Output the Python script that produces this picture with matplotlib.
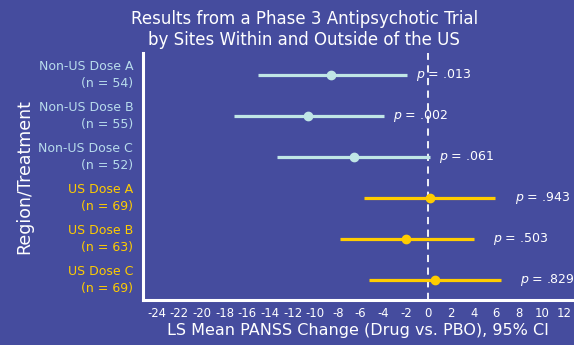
import matplotlib.pyplot as plt
import numpy as np

# Forest plot: LS mean PANSS change by region and dose
groups = ['Non-US Dose A', 'Non-US Dose B', 'Non-US Dose C',
          'US Dose A', 'US Dose B', 'US Dose C']
n_pts = [54, 55, 52, 69, 63, 69]
means = [-8.6, -10.6, -6.6, 0.1, -2.0, 0.6]
ci_low = [-15.0, -17.2, -13.4, -5.7, -7.8, -5.2]
ci_high = [-1.9, -3.9, 0.1, 5.9, 4.0, 6.4]
p_vals = ['.013', '.002', '.061', '.943', '.503', '.829']
is_us = [False, False, False, True, True, True]
xticks = list(range(-24, 13, 2))

bg = '#454c9e'
c_non = '#c0e6e6'
c_us = '#ffcc00'

fig = plt.figure(figsize=(5.74, 3.45), dpi=100, facecolor=bg)
ax = fig.add_axes([0.249, 0.13, 0.748, 0.717])
ax.set_facecolor(bg)

y = np.arange(len(groups), 0, -1)
for i in range(len(groups)):
    col = c_us if is_us[i] else c_non
    ax.plot([ci_low[i], ci_high[i]], [y[i], y[i]], color=col, lw=2.3,
            solid_capstyle='butt', zorder=3)
    ax.plot(means[i], y[i], 'o', color=col, ms=6, zorder=4)
    off = 1.7 if is_us[i] else 0.8
    ax.text(ci_high[i] + off, y[i], '$p$ = ' + p_vals[i], color='white',
            fontsize=9, va='center', ha='left', zorder=5)

ax.axvline(0, color='white', lw=1.3, ls=(0, (4, 3)), zorder=2)

ax.set_xlim(-25.2, 12.7)
ax.set_ylim(0.52, 6.55)
ax.set_xticks(xticks)
ax.set_xticklabels([str(t) for t in xticks], color='white', fontsize=8.4)
ax.tick_params(axis='x', length=0, pad=5)
ax.set_yticks(y)
ax.set_yticklabels([g + '\n(n = %d)' % n for g, n in zip(groups, n_pts)],
                   fontsize=9, linespacing=1.4, va='center')
for lab, us in zip(ax.get_yticklabels(), is_us):
    lab.set_color(c_us if us else '#b8dcec')
ax.tick_params(axis='y', length=0, pad=7)

for s in ['top', 'right']:
    ax.spines[s].set_visible(False)
for s in ['left', 'bottom']:
    ax.spines[s].set_color('white')
    ax.spines[s].set_linewidth(2.2)

ax.set_xlabel('LS Mean PANSS Change (Drug vs. PBO), 95% CI', color='white',
              fontsize=11.5, labelpad=2)
ax.set_ylabel('Region/Treatment', color='white', fontsize=12.5, labelpad=4)
fig.suptitle('Results from a Phase 3 Antipsychotic Trial\nby Sites Within and Outside of the US',
             color='white', fontsize=12, y=0.97, x=0.53, linespacing=1.2)

fig.savefig('out.png', dpi=100, facecolor=bg)
